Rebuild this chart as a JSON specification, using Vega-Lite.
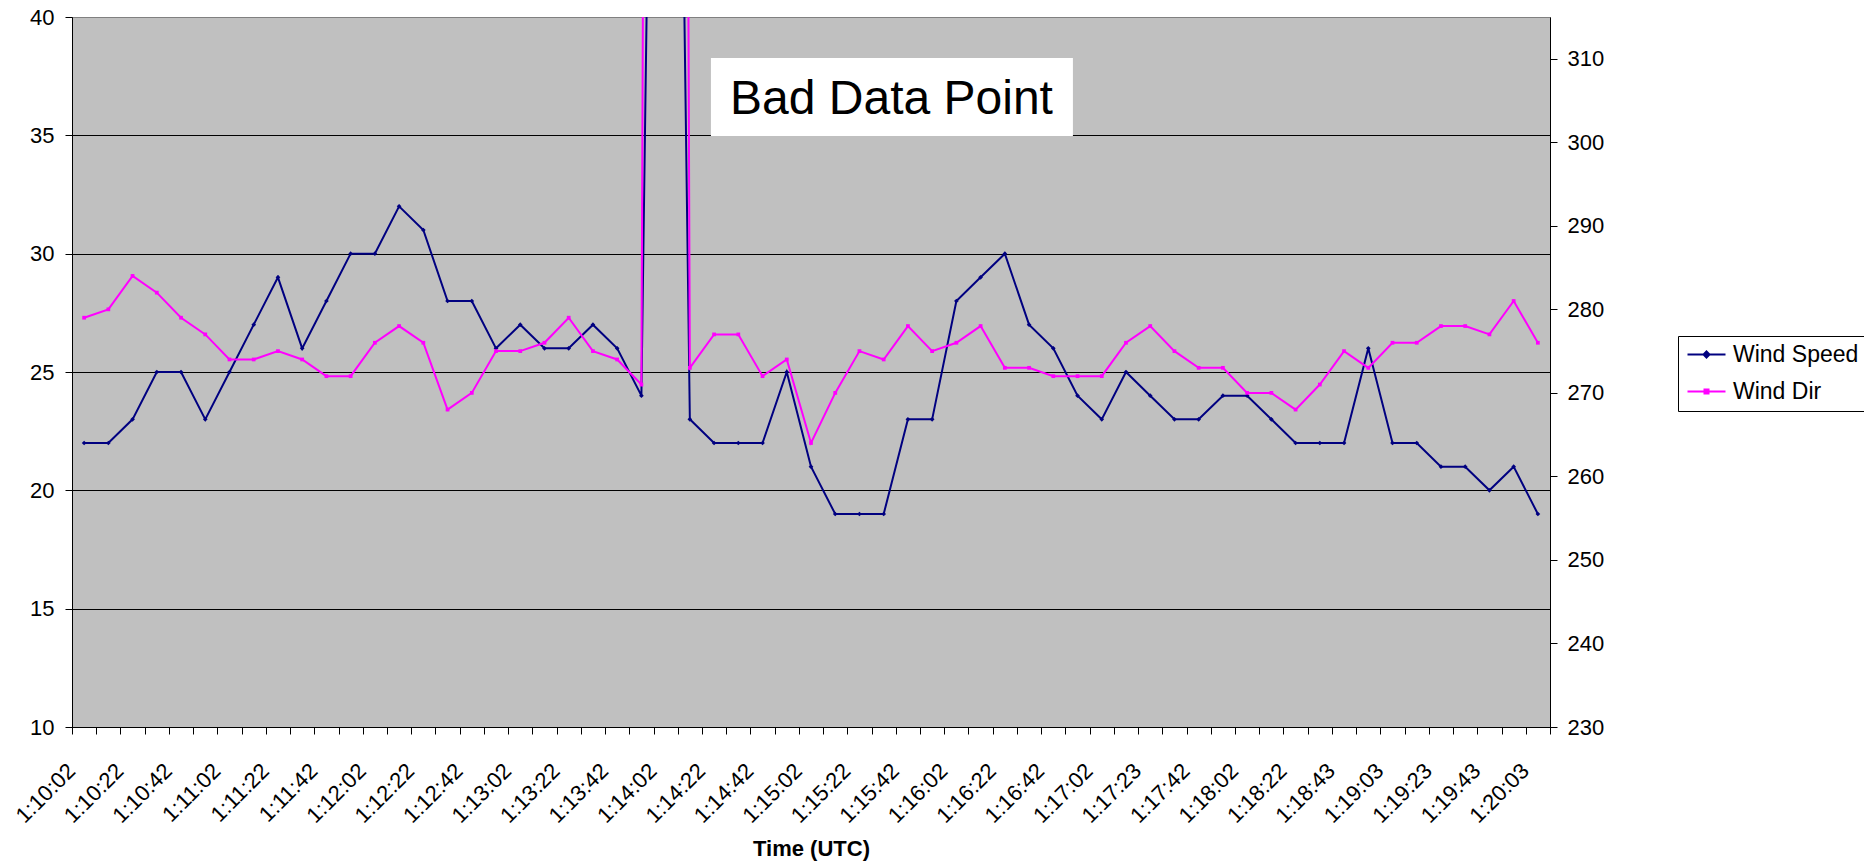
{
  "$schema": "https://vega.github.io/schema/vega-lite/v6.json",
  "width": 1478,
  "height": 710,
  "autosize": {"type": "none"},
  "padding": {"left": 72, "top": 17, "right": 314, "bottom": 135},
  "background": "white",
  "config": {
    "font": "Liberation Sans",
    "view": {"fill": "#C0C0C0", "stroke": "#808080", "strokeWidth": 1},
    "axis": {"labelFont": "Liberation Sans", "labelFontSize": 22, "labelColor": "black", "domainColor": "black", "domainWidth": 1, "tickColor": "black", "tickSize": 7, "tickWidth": 1, "titleFont": "Liberation Sans", "titleColor": "black"}
  },
  "datasets": {
    "wind": [
      {"time": "1:10:02", "speed": 22, "dir": 279},
      {"time": "1:10:12", "speed": 22, "dir": 280},
      {"time": "1:10:22", "speed": 23, "dir": 284},
      {"time": "1:10:32", "speed": 25, "dir": 282},
      {"time": "1:10:42", "speed": 25, "dir": 279},
      {"time": "1:10:52", "speed": 23, "dir": 277},
      {"time": "1:11:02", "speed": 25, "dir": 274},
      {"time": "1:11:12", "speed": 27, "dir": 274},
      {"time": "1:11:22", "speed": 29, "dir": 275},
      {"time": "1:11:32", "speed": 26, "dir": 274},
      {"time": "1:11:42", "speed": 28, "dir": 272},
      {"time": "1:11:52", "speed": 30, "dir": 272},
      {"time": "1:12:02", "speed": 30, "dir": 276},
      {"time": "1:12:12", "speed": 32, "dir": 278},
      {"time": "1:12:22", "speed": 31, "dir": 276},
      {"time": "1:12:32", "speed": 28, "dir": 268},
      {"time": "1:12:42", "speed": 28, "dir": 270},
      {"time": "1:12:52", "speed": 26, "dir": 275},
      {"time": "1:13:02", "speed": 27, "dir": 275},
      {"time": "1:13:12", "speed": 26, "dir": 276},
      {"time": "1:13:22", "speed": 26, "dir": 279},
      {"time": "1:13:32", "speed": 27, "dir": 275},
      {"time": "1:13:42", "speed": 26, "dir": 274},
      {"time": "1:13:52", "speed": 24, "dir": 271},
      {"time": "1:14:02", "speed": 99, "dir": 999},
      {"time": "1:14:12", "speed": 23, "dir": 273},
      {"time": "1:14:22", "speed": 22, "dir": 277},
      {"time": "1:14:32", "speed": 22, "dir": 277},
      {"time": "1:14:42", "speed": 22, "dir": 272},
      {"time": "1:14:52", "speed": 25, "dir": 274},
      {"time": "1:15:02", "speed": 21, "dir": 264},
      {"time": "1:15:12", "speed": 19, "dir": 270},
      {"time": "1:15:22", "speed": 19, "dir": 275},
      {"time": "1:15:32", "speed": 19, "dir": 274},
      {"time": "1:15:42", "speed": 23, "dir": 278},
      {"time": "1:15:52", "speed": 23, "dir": 275},
      {"time": "1:16:02", "speed": 28, "dir": 276},
      {"time": "1:16:12", "speed": 29, "dir": 278},
      {"time": "1:16:22", "speed": 30, "dir": 273},
      {"time": "1:16:32", "speed": 27, "dir": 273},
      {"time": "1:16:42", "speed": 26, "dir": 272},
      {"time": "1:16:52", "speed": 24, "dir": 272},
      {"time": "1:17:02", "speed": 23, "dir": 272},
      {"time": "1:17:12", "speed": 25, "dir": 276},
      {"time": "1:17:23", "speed": 24, "dir": 278},
      {"time": "1:17:33", "speed": 23, "dir": 275},
      {"time": "1:17:42", "speed": 23, "dir": 273},
      {"time": "1:17:52", "speed": 24, "dir": 273},
      {"time": "1:18:02", "speed": 24, "dir": 270},
      {"time": "1:18:12", "speed": 23, "dir": 270},
      {"time": "1:18:22", "speed": 22, "dir": 268},
      {"time": "1:18:32", "speed": 22, "dir": 271},
      {"time": "1:18:43", "speed": 22, "dir": 275},
      {"time": "1:18:53", "speed": 26, "dir": 273},
      {"time": "1:19:03", "speed": 22, "dir": 276},
      {"time": "1:19:13", "speed": 22, "dir": 276},
      {"time": "1:19:23", "speed": 21, "dir": 278},
      {"time": "1:19:33", "speed": 21, "dir": 278},
      {"time": "1:19:43", "speed": 20, "dir": 277},
      {"time": "1:19:53", "speed": 21, "dir": 281},
      {"time": "1:20:03", "speed": 19, "dir": 276}
    ]
  },
  "layer": [
    {
      "data": {"name": "wind"},
      "encoding": {
        "x": {
          "field": "time",
          "type": "ordinal",
          "sort": null,
          "scale": {"type": "band", "paddingInner": 0, "paddingOuter": 0},
          "axis": {
            "title": "Time (UTC)",
            "titleFontSize": 22,
            "titleFontWeight": "bold",
            "titleY": 128,
            "titleBaseline": "alphabetic",
            "tickBand": "extent",
            "labelAngle": -45,
            "labelAlign": "right",
            "labelBaseline": "middle",
            "labelPadding": 33,
            "labelOffset": -13,
            "labelOverlap": false,
            "labelExpr": "indexof('024', substring(datum.label, 5, 6)) >= 0 ? datum.label : ''",
            "grid": false
          }
        }
      },
      "layer": [
        {
          "encoding": {
            "y": {
              "field": "speed",
              "type": "quantitative",
              "scale": {"domain": [10, 40], "nice": false, "zero": false},
              "axis": {
                "orient": "left",
                "title": null,
                "values": [10, 15, 20, 25, 30, 35, 40],
                "grid": true,
                "gridColor": {"condition": {"test": "datum.value == 40", "value": "#808080"}, "value": "black"},
                "gridOpacity": 1,
                "gridWidth": 1,
                "labelPadding": 11
              }
            },
            "color": {
              "datum": "Wind Speed",
              "type": "nominal",
              "scale": {"domain": ["Wind Speed", "Wind Dir"], "range": ["#000080", "#FF00FF"]},
              "legend": {
                "title": null,
                "orient": "none",
                "legendX": 1606,
                "legendY": 319,
                "strokeColor": "black",
                "fillColor": "white",
                "padding": 7,
                "labelFont": "Liberation Sans",
                "labelFontSize": 23,
                "labelColor": "black",
                "symbolSize": 400,
                "symbolStrokeWidth": 2,
                "symbolOffset": 10,
                "rowPadding": 13,
                "labelOffset": 15,
                "encode": {
                  "symbols": {
                    "update": {
                      "shape": {"signal": "datum.value === 'Wind Speed' ? 'M-1.9,0H1.9M0,-0.3L0.3,0L0,0.3L-0.3,0Z' : 'M-1.9,0H1.9M-0.2,-0.2H0.2V0.2H-0.2Z'"},
                      "stroke": {"scale": "color", "field": "value"},
                      "fill": {"scale": "color", "field": "value"},
                      "strokeWidth": {"value": 2},
                      "opacity": {"value": 1}
                    }
                  }
                }
              }
            }
          },
          "layer": [
            {"mark": {"type": "line", "clip": true, "strokeWidth": 2}},
            {"mark": {"type": "point", "shape": "diamond", "filled": true, "size": 22, "opacity": 1, "clip": true}}
          ]
        },
        {
          "encoding": {
            "y": {
              "field": "dir",
              "type": "quantitative",
              "scale": {"domain": [230, 315], "nice": false, "zero": false},
              "axis": {
                "orient": "right",
                "title": null,
                "values": [230, 240, 250, 260, 270, 280, 290, 300, 310],
                "grid": false,
                "labelPadding": 10
              }
            },
            "color": {"datum": "Wind Dir", "type": "nominal"}
          },
          "layer": [
            {"mark": {"type": "line", "clip": true, "strokeWidth": 2}},
            {"mark": {"type": "point", "shape": "square", "filled": true, "size": 14, "opacity": 1, "clip": true}}
          ]
        }
      ],
      "resolve": {"scale": {"y": "independent"}}
    },
    {
      "data": {"values": [{"note": "Bad Data Point"}]},
      "layer": [
        {
          "mark": {"type": "rect", "fill": "white"},
          "encoding": {
            "x": {"datum": 26.37, "type": "quantitative", "scale": {"domain": [0, 61], "nice": false, "zero": false}, "axis": null},
            "x2": {"datum": 41.31},
            "y": {"datum": 34.97, "type": "quantitative", "scale": {"domain": [10, 40], "nice": false, "zero": false}, "axis": null},
            "y2": {"datum": 38.27}
          }
        },
        {
          "mark": {"type": "text", "align": "left", "baseline": "alphabetic", "fontSize": 48, "font": "Liberation Sans", "color": "black"},
          "encoding": {
            "x": {"datum": 27.16, "type": "quantitative"},
            "y": {"datum": 35.9, "type": "quantitative"},
            "text": {"field": "note"}
          }
        }
      ]
    }
  ],
  "resolve": {"scale": {"x": "independent", "y": "independent"}}
}
